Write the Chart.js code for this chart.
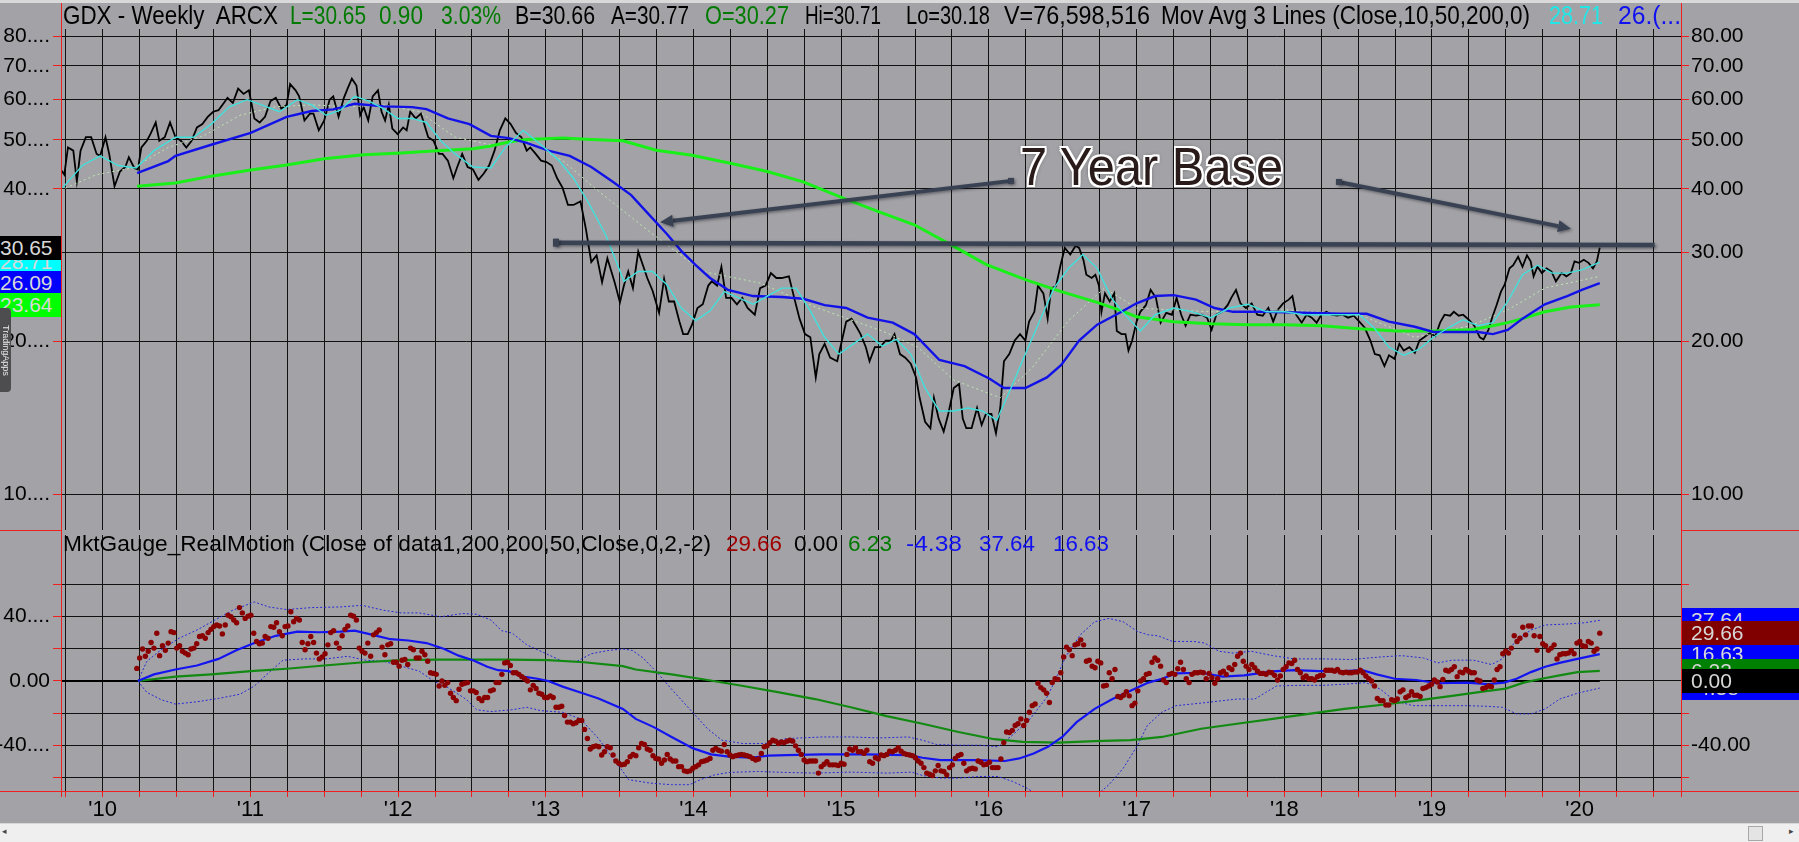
<!DOCTYPE html>
<html><head><meta charset="utf-8">
<script src="https://cdn.jsdelivr.net/npm/chart.js@4.4.1/dist/chart.umd.min.js"></script>
<style>
html,body{margin:0;padding:0;background:#a3a3a7;width:1799px;height:842px;overflow:hidden;font-family:"Liberation Sans",Arial,sans-serif;}
canvas{position:absolute;left:0;}
#c1{top:0;}
#c2{top:531px;}
.t{position:absolute;white-space:pre;transform-origin:0 50%;line-height:1.15;z-index:5;}
.box{position:absolute;height:24px;overflow:hidden;z-index:6;}
.box span{position:absolute;top:0;white-space:pre;line-height:24px;font-size:21px;color:#d8d8d8;}
.rl{position:absolute;background:#f02020;z-index:7;}
</style></head><body>
<canvas id="c1" width="1799" height="531"></canvas>
<canvas id="c2" width="1799" height="311"></canvas>
<script>
// ---------------- DATA ----------------
const labelYears = [2010,2011,2012,2013,2014,2015,2016,2017,2018,2019,2020];
const mainTickValues = [10,20,30,40,50,60,70,80];
const mainLeftLabels = ['10....','20....','30....','40....','50....','60....','70....','80....'];
const mainRightLabels = ['10.00','20.00','30.00','40.00','50.00','60.00','70.00','80.00'];
const rmTickValues = [-60,-40,-20,0,20,40,60];
const rmLeftLabels = ['','-40....','','0.00','','40....',''];
const rmRightLabels = ['','-40.00','','','','40.00',''];

const priceYears = [2009.716,2009.740,2009.765,2009.801,2009.825,2009.850,2009.886,2009.922,2009.959,2009.983,2010.019,2010.044,2010.080,2010.117,2010.153,2010.177,2010.214,2010.238,2010.262,2010.299,2010.323,2010.359,2010.383,2010.420,2010.456,2010.493,2010.529,2010.566,2010.602,2010.638,2010.675,2010.711,2010.748,2010.784,2010.820,2010.845,2010.881,2010.917,2010.954,2010.990,2011.027,2011.063,2011.099,2011.136,2011.172,2011.209,2011.245,2011.269,2011.306,2011.330,2011.366,2011.403,2011.427,2011.463,2011.500,2011.536,2011.561,2011.597,2011.633,2011.658,2011.687,2011.718,2011.743,2011.767,2011.798,2011.828,2011.864,2011.888,2011.912,2011.937,2011.961,2011.997,2012.034,2012.058,2012.082,2012.119,2012.155,2012.204,2012.240,2012.277,2012.301,2012.337,2012.374,2012.398,2012.434,2012.471,2012.507,2012.544,2012.580,2012.616,2012.653,2012.689,2012.726,2012.762,2012.798,2012.835,2012.871,2012.895,2012.932,2012.968,2013.005,2013.041,2013.077,2013.114,2013.150,2013.187,2013.235,2013.272,2013.308,2013.344,2013.381,2013.417,2013.466,2013.502,
2013.529,2013.558,2013.590,2013.626,2013.663,2013.687,2013.723,2013.767,2013.801,2013.833,2013.869,2013.905,2013.930,2013.961,2013.990,2014.027,2014.063,2014.100,2014.124,2014.160,2014.189,2014.221,2014.257,2014.294,2014.330,2014.366,2014.415,2014.451,2014.488,2014.524,2014.561,2014.597,2014.646,2014.682,2014.718,2014.755,2014.791,2014.828,2014.852,2014.888,2014.925,2014.973,2015.010,2015.034,2015.070,2015.107,2015.131,2015.167,2015.192,2015.228,2015.264,2015.301,2015.337,2015.361,2015.398,2015.434,2015.471,2015.507,2015.531,2015.568,2015.604,2015.628,2015.660,2015.694,2015.725,2015.762,2015.798,2015.823,2015.847,2015.883,2015.920,2015.951,2015.980,2016.017,2016.048,2016.077,2016.102,2016.138,2016.175,2016.211,2016.247,2016.272,2016.308,2016.332,2016.369,2016.398,2016.422,2016.454,2016.485,2016.514,2016.551,2016.587,2016.611,2016.641,2016.660,2016.696,2016.721,2016.745,2016.762,2016.786,2016.818,2016.849,2016.866,2016.898,
2016.925,2016.945,2016.970,2017.000,2017.025,2017.063,2017.095,2017.131,2017.163,2017.201,2017.239,2017.271,2017.302,2017.332,2017.364,2017.402,2017.440,2017.477,2017.508,2017.540,2017.578,2017.616,2017.641,2017.673,2017.703,2017.741,2017.779,2017.817,2017.854,2017.892,2017.925,2017.955,2017.992,2018.030,2018.055,2018.080,2018.118,2018.151,2018.186,2018.219,2018.251,2018.286,2018.319,2018.357,2018.394,2018.432,2018.470,2018.508,2018.545,2018.583,2018.613,2018.646,2018.678,2018.709,2018.746,2018.779,2018.809,2018.847,2018.884,2018.915,2018.947,2018.985,2019.023,2019.055,2019.085,2019.123,2019.148,2019.181,2019.211,2019.249,2019.286,2019.324,2019.349,2019.382,2019.407,2019.437,2019.467,2019.492,2019.525,2019.550,2019.583,2019.613,2019.643,2019.668,2019.688,2019.714,2019.744,2019.776,2019.809,2019.839,2019.877,2019.910,2019.940,2019.965,2019.995,2020.028,2020.060,2020.090,2020.116,2020.136];
const priceClose = [43.7,42.7,48.3,47.6,41.4,47.6,50.6,50.6,46.9,46.5,50.6,46.9,40.5,43.3,44.2,46.2,44.0,43.7,48.3,49.8,51.3,54.1,49.8,50.6,54.1,50.6,49.8,48.3,49.8,52.9,53.7,55.5,56.8,57.2,59.1,60.5,59.1,63.1,61.6,62.6,55.1,54.1,55.5,59.6,60.5,57.6,58.6,64.4,62.6,60.9,54.6,56.3,56.3,52.2,54.6,60.0,60.9,55.5,60.5,63.1,66.0,64.0,55.9,58.0,54.6,60.9,62.6,56.8,54.6,58.6,52.6,51.3,52.9,52.2,56.8,55.1,56.3,50.6,49.8,46.9,46.9,45.5,42.0,44.0,46.9,44.2,43.7,41.7,42.9,44.5,47.6,52.2,55.1,53.7,51.6,50.6,47.6,48.3,46.9,45.5,45.2,44.5,42.0,40.2,37.2,37.2,37.8,33.3,28.7,29.6,26.2,29.2,26.2,23.9,
25.8,27.5,25.5,30.1,28.0,26.7,25.2,22.8,26.6,24.0,24.0,21.9,20.7,20.7,21.6,23.3,23.7,25.8,26.3,25.8,28.1,24.4,24.4,23.7,24.4,23.3,22.6,25.5,25.8,27.3,26.7,26.7,26.9,24.4,22.2,20.7,20.4,17.0,18.9,19.8,18.6,18.3,20.4,21.9,22.2,21.3,20.7,19.5,18.3,19.5,19.5,20.1,20.1,20.7,18.9,18.6,18.1,17.0,15.5,13.9,13.5,15.5,14.1,13.3,14.4,16.2,16.5,14.1,13.5,13.5,14.8,13.7,14.4,14.4,13.2,14.8,18.3,18.9,20.1,20.7,20.1,21.9,22.9,25.8,24.9,22.2,25.5,25.7,28.3,30.6,29.7,30.9,30.6,28.9,27.1,26.7,27.1,25.8,22.9,24.9,24.0,24.9,21.0,20.7,
20.7,19.2,20.1,21.9,22.9,23.6,25.3,24.4,21.8,22.8,22.6,24.4,22.6,21.5,22.6,22.5,22.6,22.3,21.1,22.6,22.9,23.6,24.4,25.3,23.8,23.3,23.8,22.6,22.5,23.3,21.9,23.1,23.8,24.2,24.6,22.6,21.8,22.6,22.3,21.8,22.6,22.9,22.6,22.5,22.6,22.3,22.5,21.9,21.3,20.1,18.9,18.8,17.9,18.8,18.5,19.8,19.2,19.5,19.0,20.1,20.4,20.8,20.5,21.8,22.6,22.5,22.9,22.5,22.6,22.1,21.5,20.4,20.2,21.1,22.3,23.6,25.1,25.9,27.9,28.3,29.4,28.1,29.6,28.8,26.9,28.1,27.3,27.9,27.5,26.3,27.3,26.9,27.3,28.8,28.6,29.0,28.6,27.9,28.8,30.65];

const ma10Years = [2009.728,2009.862,2009.983,2010.104,2010.226,2010.347,2010.493,2010.614,2010.735,2010.857,2010.978,2011.075,2011.197,2011.318,2011.415,2011.512,2011.609,2011.706,2011.803,2011.900,2011.997,2012.095,2012.192,2012.289,2012.386,2012.507,2012.628,2012.726,2012.847,2012.968,2013.090,2013.187,2013.284,2013.405,2013.529,2013.626,2013.723,2013.820,2013.917,2014.015,2014.112,2014.209,2014.306,2014.403,2014.500,2014.597,2014.694,2014.791,2014.888,2014.985,2015.082,2015.179,2015.277,2015.374,2015.471,2015.568,2015.665,2015.762,2015.859,2015.956,2016.053,2016.150,2016.247,2016.344,2016.441,2016.539,2016.636,2016.733,2016.830,2016.898,2017.025,2017.126,2017.251,2017.377,2017.503,2017.628,2017.754,2017.879,2018.005,2018.131,2018.256,2018.382,2018.508,2018.608,2018.709,2018.809,2018.910,2019.010,2019.111,2019.211,2019.312,2019.412,2019.513,2019.613,2019.714,2019.814,2019.915,2020.015,2020.136];
const ma10 = [40.2,44.5,46.5,44.5,44.0,47.6,50.6,50.6,53.7,58.1,60.0,58.6,56.8,60.0,58.6,55.9,57.2,60.9,59.6,57.6,55.1,55.1,54.1,49.8,46.9,44.2,44.0,48.3,52.2,48.9,45.5,42.0,37.8,32.5,26.3,27.5,27.5,25.9,23.3,22.0,23.0,25.1,24.4,23.7,24.6,25.5,25.5,23.0,20.4,18.9,19.8,20.7,19.6,20.2,18.9,16.2,14.6,14.6,14.8,14.6,14.0,16.2,18.9,22.0,25.5,27.9,29.7,27.9,24.4,23.0,21.0,22.6,23.3,22.9,22.3,23.3,23.7,22.9,22.9,22.6,22.6,22.6,22.6,21.3,19.5,18.8,19.3,20.4,21.3,22.1,21.5,21.8,24.0,27.1,28.3,27.3,27.3,27.7,28.71];

const ma50Years = [2010.233,2010.444,2010.493,2010.735,2011.002,2011.245,2011.415,2011.561,2011.706,2011.900,2012.095,2012.192,2012.337,2012.483,2012.628,2012.750,2012.871,2013.017,2013.162,2013.308,2013.456,2013.578,2013.699,2013.820,2013.917,2014.015,2014.112,2014.233,2014.403,2014.597,2014.743,2014.888,2015.034,2015.179,2015.349,2015.495,2015.665,2015.835,2016.005,2016.102,2016.247,2016.393,2016.490,2016.611,2016.733,2016.898,2017.000,2017.126,2017.251,2017.402,2017.528,2017.653,2017.879,2018.131,2018.382,2018.558,2018.709,2018.884,2019.010,2019.161,2019.312,2019.412,2019.513,2019.613,2019.764,2019.915,2020.015,2020.136];
const ma50 = [43.0,45.4,46.5,48.9,51.6,55.5,57.0,57.4,58.9,58.2,58.0,57.5,55.1,53.7,50.9,50.4,49.3,47.6,46.5,44.2,41.3,38.9,35.6,32.6,30.2,28.3,26.7,25.3,24.6,24.5,24.3,23.6,23.3,22.3,21.8,20.7,18.4,17.9,16.9,16.2,16.2,17.0,18.0,20.1,21.6,22.9,23.8,24.6,24.7,24.2,23.3,22.9,22.9,22.8,22.7,22.7,21.9,21.4,20.9,20.9,20.9,20.7,21.1,22.2,23.7,24.6,25.3,26.09];

const ma200Years = [2010.233,2010.493,2010.735,2011.002,2011.245,2011.500,2011.767,2012.022,2012.264,2012.507,2012.628,2012.750,2012.871,2013.114,2013.308,2013.522,2013.748,2013.990,2014.257,2014.500,2014.743,2015.010,2015.252,2015.495,2015.738,2015.980,2016.247,2016.490,2016.733,2016.898,2017.000,2017.251,2017.503,2017.754,2018.005,2018.256,2018.508,2018.759,2019.010,2019.261,2019.412,2019.513,2019.613,2019.764,2019.940,2020.136];
const ma200 = [40.5,41.1,42.4,43.6,44.6,45.9,46.7,47.1,47.6,48.0,48.6,49.5,50.1,50.4,50.1,49.8,47.7,46.6,44.9,43.3,41.3,38.4,36.1,34.0,31.1,28.4,26.5,25.1,23.9,23.0,22.4,21.9,21.7,21.6,21.6,21.5,21.2,21.0,21.0,21.1,21.5,21.8,22.2,22.9,23.4,23.64];

const ma20Years = [2009.716,2009.959,2010.202,2010.444,2010.687,2010.930,2011.172,2011.415,2011.658,2011.900,2012.143,2012.386,2012.628,2012.871,2013.114,2013.357,2013.699,2014.063,2014.451,2014.840,2015.277,2015.519,2015.762,2016.077,2016.296,2016.539,2016.782,2017.000,2017.503,2018.005,2018.508,2018.884,2019.261,2019.513,2019.764,2020.136];
const ma20 = [39.8,42.7,44.0,48.3,51.0,55.9,58.1,58.6,58.1,58.6,56.8,50.6,48.9,49.8,45.5,39.6,33.0,27.5,26.1,23.3,21.0,19.5,16.8,15.5,17.8,22.0,25.5,23.3,22.9,23.1,22.6,20.4,21.5,23.1,25.5,26.9];

// RealMotion weekly dots (first week -> last week)
const rmFirstWeek = 2010.231, rmLastWeek = 2020.136;
const rmDots = [7.8,14.3,19.8,15.3,18.4,23.9,20.4,29.6,15.7,21.8,19.0,23.5,30.6,30.0,20.4,21.8,18.4,17.3,16.3,19.8,20.4,23.1,27.6,28.0,26.5,30.0,32.0,33.7,34.7,34.1,29.2,34.7,40.8,39.8,37.8,36.1,45.5,42.2,38.8,40.2,40.8,29.6,24.5,23.1,23.5,27.6,26.5,33.7,33.3,36.1,30.6,28.0,33.7,34.1,42.9,36.7,38.8,37.8,23.9,19.4,23.1,27.6,23.9,17.3,13.7,14.9,16.9,22.4,30.0,31.2,23.5,20.4,28.0,32.0,34.1,40.8,40.2,37.8,20.4,18.4,17.3,23.5,15.3,28.6,30.0,31.6,21.0,16.3,22.4,23.1,11.6,11.6,9.2,12.9,13.3,10.2,20.4,19.4,14.3,14.3,18.4,16.3,12.2,5.1,4.7,4.1,-3.1,0,-2.7,-1.0,-7.6,-10.2,-12.2,-5.1,-2.0,-1.4,-1.0,-6.1,-6.1,-7.1,-10.8,-12.2,-10.2,-10.2,-6.1,-5.5,-1.0,-1.0,4.1,11.2,11.6,9.6,5.1,5.1,4.1,2.7,1.4,0,-5.5,-2.7,-4.7,-7.6,-8.2,-10.2,-10.2,-9.2,-10.2,-16.3,-16.3,-15.7,-21.4,-25.5,-25.5,-26.5,-25.9,-24.5,-24.5,-30.0,-35.7,-42.2,-40.8,-40.2,-40.8,-45.9,-43.9,-40.8,-41.4,-45.9,-49.6,-51.0,-52.0,
-51.6,-50.0,-46.9,-45.5,-46.3,-41.4,-38.8,-39.4,-42.2,-42.9,-46.3,-48.0,-48.4,-51.0,-49.0,-45.5,-48.4,-49.6,-49.6,-53.1,-53.1,-55.7,-56.1,-55.7,-54.1,-53.1,-52.0,-50.0,-49.6,-49.0,-48.0,-42.9,-41.8,-42.9,-43.5,-39.4,-43.9,-45.9,-46.9,-46.3,-45.9,-45.5,-45.9,-46.3,-46.9,-48.0,-49.0,-48.4,-44.9,-40.8,-40.2,-38.2,-36.7,-37.3,-38.8,-37.8,-38.2,-37.3,-36.7,-37.3,-40.2,-42.9,-45.5,-49.0,-50.0,-49.6,-49.6,-49.6,-57.1,-53.1,-51.6,-50.0,-52.0,-52.0,-52.0,-52.4,-51.0,-51.6,-45.5,-42.2,-42.9,-41.4,-43.9,-43.9,-44.9,-42.9,-50.0,-51.0,-47.6,-48.4,-45.9,-46.3,-45.5,-43.5,-43.9,-42.9,-41.4,-43.5,-44.9,-45.5,-45.9,-46.3,-47.6,-49.6,-51.0,-53.7,-57.1,-57.8,-58.6,-55.7,-52.4,-55.7,-56.1,-58.2,-53.7,-52.0,-48.0,-46.3,-45.5,-51.0,-55.7,-54.5,-54.1,-54.5,-49.6,-50.4,-52.0,-51.6,-50.4,-53.7,-53.7,-53.7,-48.4,-38.2,-31.6,-32.0,-30.6,-27.6,-26.5,-23.5,-27.6,-24.5,-19.4,-15.3,-14.3,-1.4,-4.1,-5.5,-7.6,-13.3,-1.0,1.4,1.0,5.1,14.9,21.0,19.4,15.7,22.4,23.1,25.5,22.4,12.2,12.9,9.2,8.2,12.2,11.2,-3.1,-2.7,5.1,1.4,7.1,-9.6,-10.2,-8.8,-6.7,-9.2,-15.3,-13.7,-6.1,0,1.4,4.1,4.7,11.6,14.3,12.9,9.2,
0.6,-1.0,4.1,4.7,4.1,7.6,11.6,7.1,1.4,-1.0,4.1,5.1,5.1,5.5,5.1,1.4,4.7,2.0,-1.4,1.4,5.1,6.1,4.1,8.2,7.1,10.2,15.3,17.3,12.2,9.2,7.1,10.2,8.2,6.1,4.7,4.7,4.1,5.5,5.1,3.5,0.6,3.1,7.1,8.8,11.2,10.8,12.9,7.1,5.1,2.0,3.1,1.4,1.4,0.6,2.7,3.5,3.5,6.7,6.7,6.7,6.1,7.1,5.5,5.1,5.5,5.1,5.1,5.5,5.5,6.7,5.1,3.1,1.4,0,-3.1,-10.8,-12.2,-12.2,-14.9,-14.9,-11.6,-12.2,-11.2,-6.7,-5.5,-10.2,-9.2,-6.7,-8.8,-8.8,-9.6,-4.7,-4.1,-3.1,-2.0,0.6,-0.6,-3.5,1.0,6.7,6.1,7.1,8.8,2.7,5.5,5.1,7.1,6.1,5.1,5.1,0.6,0,-4.7,-4.1,-3.1,-3.5,0.6,7.1,8.8,16.9,18.4,17.3,20.4,28.0,24.5,26.5,33.3,28.6,34.1,34.1,28.0,19.0,27.6,23.1,21.8,19.0,20.4,22.4,13.7,16.3,16.9,16.9,17.3,19.0,16.9,23.5,24.5,21.8,21.4,24.5,23.5,18.4,19.8,29.66];

const rmAvgYears = [2010.238,2010.347,2010.493,2010.638,2010.784,2010.905,2011.027,2011.172,2011.318,2011.463,2011.609,2011.706,2011.828,2011.949,2012.070,2012.192,2012.313,2012.410,2012.507,2012.604,2012.677,2012.750,2012.847,2012.944,2013.017,2013.114,2013.235,2013.357,2013.522,2013.609,2013.731,2013.852,2013.998,2014.119,2014.240,2014.386,2014.507,2014.629,2014.871,2015.163,2015.454,2015.551,2015.672,2015.915,2016.109,2016.206,2016.303,2016.400,2016.497,2016.594,2016.716,2016.837,2016.959,2017.080,2017.172,2017.267,2017.437,2017.583,2017.728,2017.922,2018.068,2018.238,2018.408,2018.529,2018.626,2018.748,2018.893,2019.039,2019.233,2019.379,2019.488,2019.573,2019.670,2019.767,2019.864,2019.985,2020.136];
const rmAvg = [0,4.1,7.1,9.6,13.7,19.0,23.5,28.0,30.6,30.2,30.6,31.2,28.6,25.9,25.1,23.5,19.8,15.7,12.9,8.8,6.7,6.1,2.7,1.4,0,-3.5,-7.1,-10.8,-17.3,-23.5,-28.6,-34.7,-41.8,-45.5,-46.9,-47.6,-46.3,-45.9,-45.5,-45.5,-45.9,-47.6,-49.0,-49.0,-49.6,-48.0,-44.9,-40.8,-34.7,-25.5,-17.3,-11.2,-6.1,-1.0,1.4,4.7,5.1,2.7,3.5,5.9,6.7,6.1,6.1,6.7,4.1,1.4,0.6,-1.4,-1.0,-2.0,-1.0,1.4,5.5,8.8,11.2,13.7,16.63];

const rmSlowYears = [2010.238,2010.493,2010.735,2011.002,2011.245,2011.500,2011.767,2012.022,2012.264,2012.507,2012.750,2013.017,2013.259,2013.522,2013.609,2013.852,2014.095,2014.337,2014.580,2014.823,2015.065,2015.308,2015.551,2015.794,2016.036,2016.230,2016.473,2016.716,2016.959,2017.172,2017.437,2017.680,2017.922,2018.165,2018.408,2018.650,2018.893,2019.136,2019.379,2019.500,2019.621,2019.743,2019.864,2019.985,2020.136];
const rmSlow = [0,2.7,4.1,6.1,7.6,9.6,11.6,12.9,13.3,13.3,13.3,12.9,11.6,9.2,7.1,4.1,0.6,-3.1,-7.1,-11.2,-16.3,-21.8,-26.5,-31.6,-36.1,-37.8,-38.2,-37.3,-36.7,-34.7,-29.6,-26.5,-23.5,-20.4,-17.3,-14.9,-12.2,-9.2,-6.1,-4.7,-1.0,1.4,3.5,5.5,6.23];

const bandUpYears = [2010.238,2010.299,2010.396,2010.517,2010.638,2010.760,2010.881,2011.027,2011.124,2011.245,2011.415,2011.609,2011.755,2011.900,2012.022,2012.143,2012.289,2012.434,2012.531,2012.628,2012.701,2012.774,2012.871,2012.993,2013.114,2013.211,2013.308,2013.429,2013.522,2013.585,2013.658,2013.755,2013.852,2013.973,2014.095,2014.192,2014.337,2014.483,2014.629,2014.871,2015.065,2015.260,2015.454,2015.551,2015.648,2015.794,2015.939,2016.061,2016.158,2016.279,2016.400,2016.522,2016.619,2016.716,2016.813,2016.910,2017.007,2017.080,2017.146,2017.243,2017.388,2017.461,2017.558,2017.655,2017.777,2017.922,2018.068,2018.262,2018.456,2018.650,2018.796,2018.942,2019.039,2019.136,2019.281,2019.403,2019.476,2019.573,2019.670,2019.767,2019.912,2020.034,2020.136];
const bandUp = [0,12.2,19.4,26.5,31.6,37.8,43.9,49.0,45.9,44.3,45.5,45.9,46.9,43.9,42.2,42.2,39.8,41.8,41.4,37.8,31.2,29.6,22.4,17.3,12.2,12.2,16.9,19.0,19.8,19.0,14.3,5.1,-5.1,-17.3,-29.6,-36.7,-38.8,-38.8,-35.7,-34.7,-34.7,-35.3,-34.7,-36.7,-39.4,-39.8,-39.8,-40.8,-33.7,-23.5,-9.2,15.3,28.6,36.7,38.8,36.7,30.6,28.6,28.0,24.5,24.5,23.5,18.4,17.3,18.4,15.7,13.7,13.7,13.3,14.9,15.7,14.3,11.2,12.9,12.9,10.2,13.7,25.5,31.6,34.7,35.3,36.1,37.64];

const bandLoYears = [2010.238,2010.299,2010.396,2010.493,2010.638,2010.784,2010.930,2011.027,2011.124,2011.221,2011.366,2011.512,2011.658,2011.779,2011.900,2012.022,2012.143,2012.240,2012.337,2012.459,2012.531,2012.628,2012.774,2012.871,2012.968,2013.114,2013.235,2013.357,2013.454,2013.522,2013.561,2013.706,2013.852,2013.973,2014.046,2014.143,2014.240,2014.434,2014.629,2014.823,2015.065,2015.308,2015.478,2015.551,2015.672,2015.794,2015.939,2016.061,2016.158,2016.255,2016.352,2016.716,2016.813,2016.910,2017.007,2017.073,2017.170,2017.267,2017.437,2017.583,2017.680,2017.801,2017.874,2017.947,2018.092,2018.262,2018.408,2018.553,2018.650,2018.748,2018.869,2019.039,2019.233,2019.379,2019.476,2019.573,2019.670,2019.767,2019.864,2019.985,2020.136];
const bandLo = [0,-7.1,-11.6,-14.3,-12.9,-10.8,-8.2,-3.1,5.1,12.9,13.7,13.7,15.3,12.9,12.2,9.2,6.1,0,-4.1,-11.2,-17.8,-19.0,-17.8,-16.3,-18.4,-19.4,-23.5,-35.7,-48.0,-56.1,-61.2,-63.3,-64.3,-64.3,-61.2,-58.2,-56.7,-56.1,-56.7,-57.1,-56.5,-57.1,-56.5,-58.6,-60.2,-60.2,-59.2,-59.2,-62.2,-66.3,-72,-72,-64.3,-54.1,-39.8,-27.6,-19.4,-15.3,-13.7,-12.2,-11.2,-11.2,-7.1,-3.1,-2.7,-2.7,-2.0,-1.0,-5.1,-12.2,-15.3,-15.3,-15.3,-15.7,-16.3,-20.4,-20.4,-17.3,-11.2,-7.6,-4.38];

const zeroLineYears = [2009.72, 2020.136];
const zeroLine = [0, 0];

// "7 Year Base" annotation (data coordinates)
const baseLineYears = [2013.062, 2020.508];
const baseLineLevels = [31.35, 31.02];
const arrowTails = [[2016.150, 41.5], [2018.370, 41.3]];
const arrowHeads = [[2013.773, 34.4], [2019.941, 33.4]];
const baseLabel = {text: '7 Year Base', year: 2017.101, level: 44.2};

// ---------------- LAYOUT ----------------
const FONT = '"Liberation Sans", Arial, sans-serif';
const X_MIN = 2009.7177, X_MAX = 2020.686;
const MAIN_MIN = 8.504, MAIN_MAX = 82.7;
const RM_MIN = -68.2, RM_MAX = 90.5;
const RED = '#f02020';
Chart.defaults.font.family = FONT;
Chart.defaults.color = '#000';

const quarterTicks = [];
for (let q = Math.ceil(X_MIN * 4); q <= Math.floor(X_MAX * 4); q++) quarterTicks.push(q / 4);

const pts = (xs, ys) => xs.map((x, i) => ({x, y: ys[i]}));
const rmWeeks = rmDots.map((_, i) => rmFirstWeek + i * (rmLastWeek - rmFirstWeek) / (rmDots.length - 1));
const line = (data, color, width, extra) => Object.assign({data, borderColor: color, borderWidth: width, pointRadius: 0, tension: 0, fill: false}, extra || {});

function yAxis(pos, type, min, max, values, labels, width, pad, grid) {
  return {
    type, position: pos, min, max,
    afterBuildTicks: s => { s.ticks = values.map(v => ({value: v})); },
    afterFit: s => { s.width = width; s.paddingTop = 0; s.paddingBottom = 0; },
    ticks: {autoSkip: false, padding: pad, font: {size: 21}, color: '#000',
      callback: (v, i) => labels[values.indexOf(v)] ?? ''},
    grid: {display: true, drawOnChartArea: grid, color: '#111', lineWidth: 1, tickColor: RED, tickLength: 8},
    border: {display: true, color: RED, width: 1}
  };
}

const annotationPlugin = {
  id: 'baseAnnot',
  afterDatasetsDraw(chart) {
    const {ctx, scales: {x, y}} = chart;
    ctx.save();
    ctx.strokeStyle = '#394253'; ctx.fillStyle = '#394253';
    ctx.lineWidth = 4.5; ctx.lineCap = 'butt';
    ctx.shadowColor = 'rgba(20,20,30,0.45)'; ctx.shadowBlur = 3; ctx.shadowOffsetX = 1.5; ctx.shadowOffsetY = 1.5;
    const x0 = x.getPixelForValue(baseLineYears[0]), y0 = y.getPixelForValue(baseLineLevels[0]);
    const x1 = x.getPixelForValue(baseLineYears[1]), y1 = y.getPixelForValue(baseLineLevels[1]);
    ctx.beginPath(); ctx.moveTo(x0, y0); ctx.lineTo(x1, y1); ctx.stroke();
    ctx.fillRect(x0 - 2, y0 - 4, 6, 8);
    arrowTails.forEach((t, i) => {
      const h = arrowHeads[i];
      const tx = x.getPixelForValue(t[0]), ty = y.getPixelForValue(t[1]);
      const hx = x.getPixelForValue(h[0]), hy = y.getPixelForValue(h[1]);
      const ang = Math.atan2(hy - ty, hx - tx);
      const L = 13, W = 6;
      const bx = hx - L * Math.cos(ang), by = hy - L * Math.sin(ang);
      ctx.lineWidth = 4;
      ctx.beginPath(); ctx.moveTo(tx, ty); ctx.lineTo(bx, by); ctx.stroke();
      ctx.fillRect(tx - 3, ty - 3, 6, 6);
      ctx.beginPath();
      ctx.moveTo(hx, hy);
      ctx.lineTo(bx + W * Math.sin(ang), by - W * Math.cos(ang));
      ctx.lineTo(bx - W * Math.sin(ang), by + W * Math.cos(ang));
      ctx.closePath(); ctx.fill();
    });
    ctx.restore();
  }
};

const mainChart = new Chart(document.getElementById('c1'), {
  type: 'line',
  data: {datasets: [
    line(pts(ma10Years, ma10), '#40e0dc', 1.4),
    line(pts(ma50Years, ma50), '#1212e8', 2.4),
    line(pts(ma200Years, ma200), '#18f018', 3),
    line(pts(ma20Years, ma20), '#bde8b0', 1, {borderDash: [2, 3]}),
    line(pts(priceYears, priceClose), '#000000', 1.8),
  ]},
  options: {
    responsive: false, animation: false, devicePixelRatio: 1,
    layout: {padding: {top: 29, bottom: 1, left: 0, right: 0}},
    plugins: {legend: {display: false}, tooltip: {enabled: false}},
    scales: {
      x: {type: 'linear', min: X_MIN, max: X_MAX,
        afterBuildTicks: s => { s.ticks = quarterTicks.map(v => ({value: v})); },
        afterFit: s => { s.height = 0; s.paddingLeft = 0; s.paddingRight = 0; },
        ticks: {display: false}, grid: {color: '#111', lineWidth: 1, drawTicks: false}, border: {display: false}},
      y: yAxis('left', 'logarithmic', MAIN_MIN, MAIN_MAX, mainTickValues, mainLeftLabels, 61, 3, true),
      y2: yAxis('right', 'logarithmic', MAIN_MIN, MAIN_MAX, mainTickValues, mainRightLabels, 118, 2, false),
    }
  },
  plugins: [annotationPlugin]
});

const rmChart = new Chart(document.getElementById('c2'), {
  type: 'line',
  data: {datasets: [
    line(pts(rmWeeks, rmDots), '#8b0000', 0, {showLine: false, pointRadius: 2.7, pointBackgroundColor: '#8b0000', pointBorderWidth: 0}),
    line(pts(rmAvgYears, rmAvg), '#1414f0', 2.2),
    line(pts(rmSlowYears, rmSlow), '#128a12', 2.2),
    line(pts(zeroLineYears, zeroLine), '#000000', 2),
    line(pts(bandUpYears, bandUp), '#2828d8', 1, {borderDash: [2, 2]}),
    line(pts(bandLoYears, bandLo), '#2828d8', 1, {borderDash: [2, 2]}),
  ]},
  options: {
    responsive: false, animation: false, devicePixelRatio: 1,
    layout: {padding: {top: 0, bottom: 0, left: 0, right: 0}},
    plugins: {legend: {display: false}, tooltip: {enabled: false}},
    scales: {
      x: {type: 'linear', min: X_MIN, max: X_MAX,
        afterBuildTicks: s => { s.ticks = quarterTicks.map(v => ({value: v})); },
        afterFit: s => { s.height = 51; s.paddingLeft = 0; s.paddingRight = 0; },
        ticks: {autoSkip: false, maxRotation: 0, minRotation: 0, padding: 0, font: {size: 22}, color: '#000',
          callback: v => labelYears.includes(v) ? "'" + String(v % 100).padStart(2, '0') : ''},
        grid: {color: '#111', lineWidth: 1, tickColor: RED, tickLength: 6},
        border: {display: true, color: RED, width: 1}},
      y: yAxis('left', 'linear', RM_MIN, RM_MAX, rmTickValues, rmLeftLabels, 61, 3, true),
      y2: yAxis('right', 'linear', RM_MIN, RM_MAX, rmTickValues, rmRightLabels, 118, 2, false),
    }
  }
});

// ---------------- OVERLAYS ----------------
function add(tag, cls, style, text) {
  const e = document.createElement(tag);
  if (cls) e.className = cls;
  Object.assign(e.style, style);
  if (text != null) e.textContent = text;
  document.body.appendChild(e);
  return e;
}
function textAt(text, x, capCenter, size, color) {
  return add('div', 't', {left: x + 'px', top: (capCenter - 0.563 * size) + 'px', fontSize: size + 'px', color}, text);
}
function fitTo(e, target) {
  const w = e.getBoundingClientRect().width;
  e.style.transform = 'scaleX(' + (target / w) + ')';
}

// top strip
add('div', null, {position: 'absolute', left: '0', top: '0', width: '1799px', height: '3px', background: '#d9d9d9', zIndex: 8});

// main header: [text, left, width, colour]
const mainHeader = [
  ['GDX - Weekly  ARCX', 63, 215, '#000'], ['L=30.65', 290, 76, '#007a00'], ['0.90', 379, 44, '#007a00'], ['3.03%', 441, 60, '#007a00'],
  ['B=30.66', 515, 80, '#000'], ['A=30.77', 611, 78, '#000'], ['O=30.27', 705, 84, '#007a00'], ['Hi=30.71', 805, 76, '#000'],
  ['Lo=30.18', 906, 84, '#000'], ['V=76,598,516', 1004, 146, '#000'], ['Mov Avg 3 Lines (Close,10,50,200,0)', 1161, 369, '#000'],
  ['28.71', 1549, 54, '#22e6e6'], ['26.(...', 1618, 63, '#1010f0']
];
mainHeader.forEach(([t, x, w, c]) => fitTo(textAt(t, x, 15, 25, c), w));

// lower header
const rmHeader = [
  ['MktGauge_RealMotion (Close of data1,200,200,50,Close,0,2,-2)', 63, 648, '#000'], ['29.66', 726, 56, '#a00000'], ['0.00', 794, 44, '#000'],
  ['6.23', 848, 44, '#007a00'], ['-4.38', 906, 56, '#1010f0'], ['37.64', 979, 56, '#1010f0'], ['16.63', 1053, 56, '#1010f0']
];
rmHeader.forEach(([t, x, w, c]) => fitTo(textAt(t, x, 543, 22, c), w));

// red axis lines
add('div', 'rl', {left: '61px', top: '0', width: '1px', height: '797px'});
add('div', 'rl', {left: '1681px', top: '0', width: '1px', height: '797px'});
add('div', 'rl', {left: '0', top: '530px', width: '61px', height: '1px'});
add('div', 'rl', {left: '1681px', top: '530px', width: '118px', height: '1px'});
add('div', 'rl', {left: '0', top: '791px', width: '1799px', height: '1px'});

// left value boxes (main panel)
const ys = mainChart.scales.y;
const leftBoxes = [
  [ma10[ma10.length - 1], '#00ffff'], [ma50[ma50.length - 1], '#0000ff'],
  [ma200[ma200.length - 1], '#00ff00'], [priceClose[priceClose.length - 1], '#000000']
];
leftBoxes.forEach(([v, bg]) => {
  const b = add('div', 'box', {left: '0', width: '61px', top: (ys.getPixelForValue(v) - 12) + 'px', background: bg});
  const s = document.createElement('span'); s.textContent = v.toFixed(2); s.style.left = '0px'; b.appendChild(s);
});

// right value boxes (RealMotion panel)
const ys2 = rmChart.scales.y;
const rightBoxes = [
  [bandUp[bandUp.length - 1], '#0000ff'], [rmAvg[rmAvg.length - 1], '#0000ff'], [bandLo[bandLo.length - 1], '#0000ff'],
  [rmSlow[rmSlow.length - 1], '#008000'], [rmDots[rmDots.length - 1], '#800000'], [zeroLine[zeroLine.length - 1], '#000000']
];
rightBoxes.forEach(([v, bg]) => {
  const b = add('div', 'box', {left: '1682px', width: '117px', top: (531 + ys2.getPixelForValue(v) - 12) + 'px', background: bg});
  const s = document.createElement('span'); s.textContent = v.toFixed(2); s.style.left = '9px'; b.appendChild(s);
});

// "7 Year Base" label
const lbl = add('div', 't', {
  fontSize: '53px', color: '#2a1b1b', zIndex: 6,
  textShadow: '-2px -2px 0 #fff,2px -2px 0 #fff,-2px 2px 0 #fff,2px 2px 0 #fff,0 -2px 0 #fff,0 2px 0 #fff,-2px 0 0 #fff,2px 0 0 #fff,0 0 6px rgba(0,0,0,0.7)'
}, baseLabel.text);
fitTo(lbl, 263);
lbl.style.left = (mainChart.scales.x.getPixelForValue(baseLabel.year) - 263 / 2) + 'px';
lbl.style.top = (mainChart.scales.y.getPixelForValue(baseLabel.level) - 0.563 * 53) + 'px';

// side tab
add('div', null, {position: 'absolute', left: '0', top: '308px', width: '11px', height: '84px', background: '#4d4d4f',
  borderRadius: '0 4px 4px 0', zIndex: 9, overflow: 'hidden', color: '#e8e8e8', fontSize: '9px', writingMode: 'vertical-rl', lineHeight: '11px', textAlign: 'center'}, 'TradingApps');

// scrollbar
add('div', null, {position: 'absolute', left: '0', top: '823px', width: '1799px', height: '19px', background: '#efefef', borderTop: '1px solid #d6d6d6', zIndex: 8});
add('div', null, {position: 'absolute', left: '1748px', top: '826px', width: '13px', height: '13px', background: '#e4e4e4', border: '1px solid #a8a8a8', zIndex: 9});
add('div', null, {position: 'absolute', left: '2px', top: '826px', fontSize: '9px', color: '#444', zIndex: 9}, '\u25C2');
add('div', null, {position: 'absolute', left: '1789px', top: '826px', fontSize: '9px', color: '#444', zIndex: 9}, '\u25B8');
</script>
</body></html>
